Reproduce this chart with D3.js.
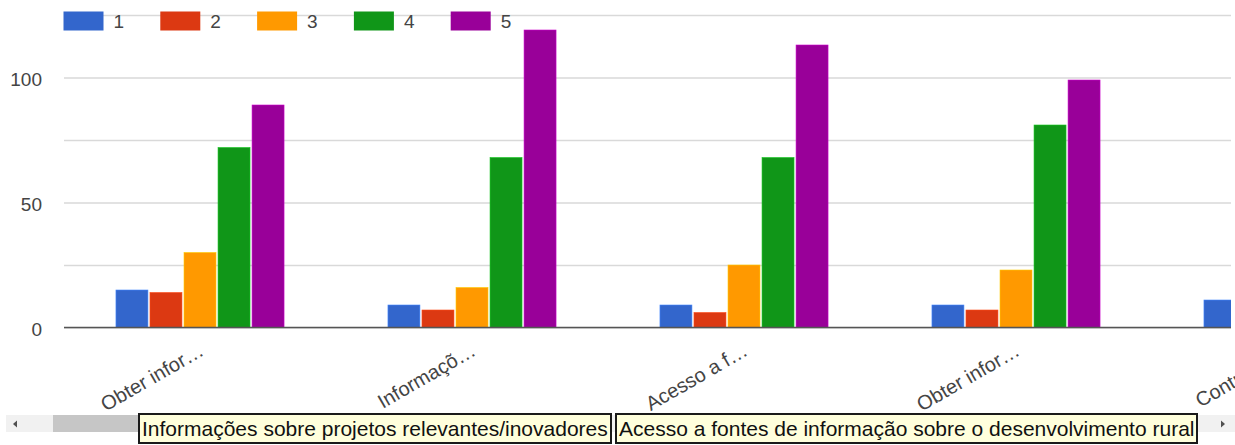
<!DOCTYPE html>
<html>
<head>
<meta charset="utf-8">
<script src="https://cdn.jsdelivr.net/npm/d3@7"></script>
<style>
  html, body { margin: 0; padding: 0; background: #fff; }
  svg { display: block; font-family: "Liberation Sans", Arial, sans-serif; }
</style>
</head>
<body>
<svg id="chart" width="1235" height="445"></svg>
<script>
// Category labels (already truncated, as the axis shows them)
const categories = ["Obter infor…", "Informaçõ…", "Acesso a f…", "Obter infor…", "Contribuir…"];
// Rating levels 1–5
const seriesNames = ["1", "2", "3", "4", "5"];
const seriesColors = ["#3366cc", "#dc3912", "#ff9900", "#109618", "#990099"];
// Counts per rating level, one value per category (last category is scrolled off)
const rating1 = [15, 9, 9, 9, 11];
const rating2 = [14, 7, 6, 7, null];
const rating3 = [30, 16, 25, 23, null];
const rating4 = [72, 68, 68, 81, null];
const rating5 = [89, 119, 113, 99, null];
const yTickLabels = [0, 50, 100];
const gridValues = [0, 25, 50, 75, 100, 125];
// Hover captions with the full category names
const tooltipTexts = [
  "Informações sobre projetos relevantes/inovadores",
  "Acesso a fontes de informação sobre o desenvolvimento rural"
];

const series = [rating1, rating2, rating3, rating4, rating5];
const FONT = "'Liberation Sans', Arial, sans-serif";

const svg = d3.select("#chart");
const plot = { left: 64, right: 1231, top: 15, bottom: 327.5 };

const x0 = d3.scaleBand()
  .domain(d3.range(categories.length))
  .range([plot.left, plot.left + 272 * categories.length])
  .paddingInner(0.382)
  .paddingOuter(0.191);

const x1 = d3.scaleBand()
  .domain(d3.range(seriesNames.length))
  .range([0, x0.bandwidth()])
  .paddingInner(0.06)
  .paddingOuter(0);

const y = d3.scaleLinear().domain([0, 125]).range([plot.bottom, plot.top]);

svg.append("defs").append("clipPath").attr("id", "plotClip")
  .append("rect")
  .attr("x", plot.left).attr("y", 0)
  .attr("width", plot.right - plot.left).attr("height", plot.bottom + 2);

// Gridlines
const grid = svg.append("g")
  .attr("transform", `translate(${plot.left},0)`)
  .call(d3.axisLeft(y).tickValues(gridValues).tickSize(-(plot.right - plot.left)).tickFormat(""));
grid.select(".domain").remove();
grid.selectAll("line").attr("stroke", "#d9d9d9").attr("stroke-width", 1.5);

// Y tick labels
const yAxis = svg.append("g")
  .attr("transform", `translate(42,0)`)
  .call(d3.axisLeft(y).tickValues(yTickLabels).tickSize(0).tickPadding(0));
yAxis.select(".domain").remove();
yAxis.selectAll("text")
  .attr("fill", "#444")
  .attr("font-size", 19)
  .attr("dy", 8)
  .style("font-family", FONT);

// Bars
const barsLayer = svg.append("g").attr("clip-path", "url(#plotClip)");
const groups = barsLayer.selectAll("g.cat")
  .data(categories.map((c, i) => i))
  .join("g")
  .attr("class", "cat")
  .attr("transform", i => `translate(${x0(i)},0)`);

groups.selectAll("rect")
  .data(i => series.map((s, k) => ({ k, v: s[i] })).filter(d => d.v != null))
  .join("rect")
  .attr("x", d => x1(d.k))
  .attr("width", x1.bandwidth())
  .attr("y", d => y(d.v))
  .attr("height", d => y(0) - y(d.v))
  .attr("fill", d => seriesColors[d.k])
  .attr("stroke", d => d3.color(seriesColors[d.k]).brighter(0.8))
  .attr("stroke-width", 0.6);

// Baseline
svg.append("line")
  .attr("x1", plot.left).attr("x2", plot.right)
  .attr("y1", y(0)).attr("y2", y(0))
  .attr("stroke", "#555").attr("stroke-width", 1.6);

// X axis labels, slanted
const xAxis = svg.append("g")
  .attr("transform", `translate(0,${y(0)})`)
  .call(d3.axisBottom(x0).tickFormat(i => categories[i]).tickSize(0));
xAxis.select(".domain").remove();
xAxis.selectAll(".tick text")
  .attr("fill", "#444")
  .attr("font-size", 20)
  .attr("text-anchor", "end")
  .attr("dy", 0)
  .attr("y", 0)
  .attr("transform", "translate(5,27) rotate(-30)")
  .style("font-family", FONT);

// Legend
const legend = svg.append("g");
const entries = legend.selectAll("g")
  .data(seriesNames)
  .join("g")
  .attr("transform", (d, i) => `translate(${63.5 + i * 96.8},11.5)`);
entries.append("rect")
  .attr("width", 40).attr("height", 19)
  .attr("fill", (d, i) => seriesColors[i]);
entries.append("text")
  .attr("x", 50).attr("y", 16.5)
  .attr("font-size", 19)
  .attr("fill", "#444")
  .text(d => d);

// Horizontal scrollbar
const sb = svg.append("g");
sb.append("rect").attr("x", 6).attr("y", 415).attr("width", 1229).attr("height", 17).attr("fill", "#f1f1f1");
sb.append("rect").attr("x", 53).attr("y", 415).attr("width", 100).attr("height", 17).attr("fill", "#c6c6c6");
sb.append("path").attr("d", "M13,424 L17,420.5 L17,427.5 Z").attr("fill", "#505050");
sb.append("path").attr("d", "M1225,424 L1221,420.5 L1221,427.5 Z").attr("fill", "#505050");

// Tooltips
const tips = [
  { x: 138, w: 474, text: tooltipTexts[0] },
  { x: 615, w: 583, text: tooltipTexts[1] }
];
const tipG = svg.append("g").selectAll("g").data(tips).join("g")
  .attr("transform", d => `translate(${d.x},413)`);
tipG.append("rect")
  .attr("x", 1).attr("y", 1)
  .attr("width", d => d.w - 2).attr("height", 29)
  .attr("fill", "#ffffdc").attr("stroke", "#1a1a1a").attr("stroke-width", 2);
tipG.append("text")
  .attr("x", 4).attr("y", 23)
  .attr("font-size", 21)
  .attr("fill", "#111")
  .text(d => d.text);
</script>
</body>
</html>
